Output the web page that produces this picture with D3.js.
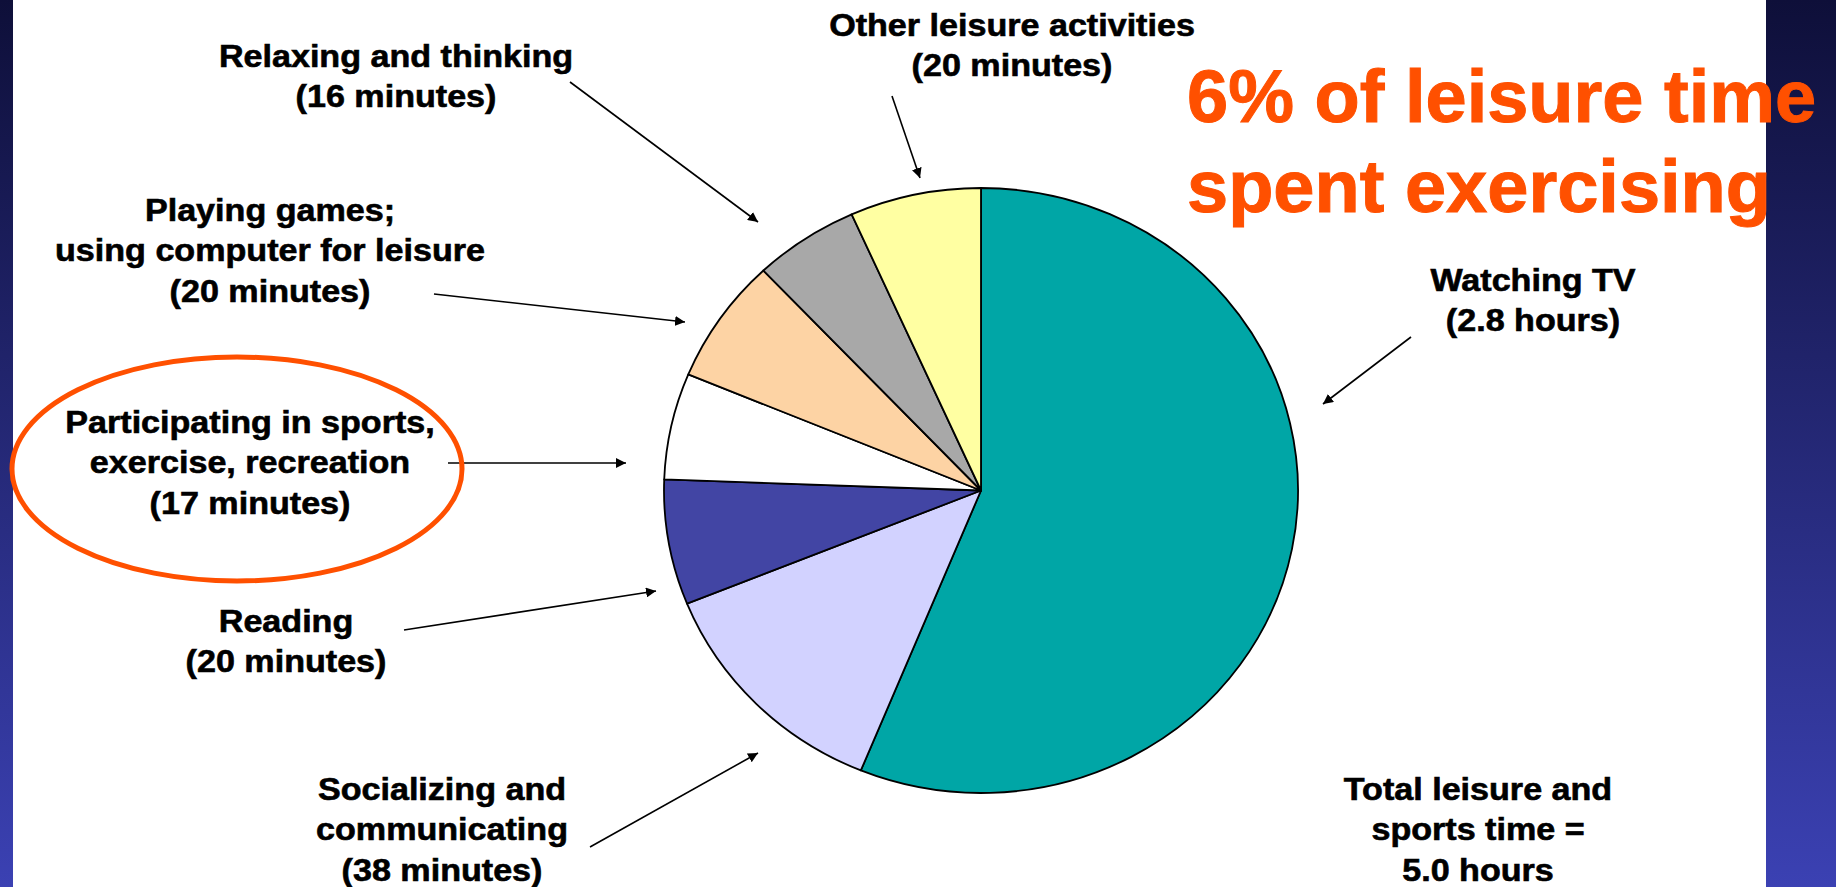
<!DOCTYPE html>
<html>
<head>
<meta charset="utf-8">
<script src="https://cdn.jsdelivr.net/npm/d3@7"></script>
<style>
  html, body { margin: 0; padding: 0; background: #ffffff; }
  svg { display: block; }
  text { font-family: "Liberation Sans", Arial, Helvetica, sans-serif; font-weight: bold; }
</style>
</head>
<body>
<svg id="chart" width="1836" height="887"></svg>
<script>
// Daily leisure and sports time, by activity (minutes), clockwise from 12 o'clock
const categories = [
  ["Watching TV"],
  ["Socializing and", "communicating"],
  ["Reading"],
  ["Participating in sports,", "exercise, recreation"],
  ["Playing games;", "using computer for leisure"],
  ["Relaxing and thinking"],
  ["Other leisure activities"]
];
const minutes = [168, 38, 20, 17, 20, 16, 20];
const valueUnits = ["hours", "minutes", "minutes", "minutes", "minutes", "minutes", "minutes"];
const titleLines = ["6% of leisure time", "spent exercising"];
const totalLines = ["Total leisure and", "sports time ="];

// Styles
const sliceColors = ["#00a6a6", "#d2d2ff", "#4245a4", "#ffffff", "#fdd3a4", "#a8a8a8", "#ffffa2"];
const accent = "#ff5000";

// Layout: label anchor (centre x, first baseline) and arrow (from -> to)
const labelLayout = [
  { x: 1533, y: 291, arrow: [[1411, 337], [1323, 404]] },
  { x: 442,  y: 800, arrow: [[590, 847], [758, 753]] },
  { x: 286,  y: 632, arrow: [[404, 630], [656, 591]] },
  { x: 250,  y: 433, arrow: [[448, 463], [626, 463]] },
  { x: 270,  y: 221, arrow: [[434, 294], [685, 322]] },
  { x: 396,  y: 67,  arrow: [[570, 82], [758, 222]] },
  { x: 1012, y: 36,  arrow: [[892, 96], [920, 178]] }
];
const lineGap = 40.5;
const labelStretch = 1.1;

const svg = d3.select("#chart");
const W = 1836, H = 887;

// Backdrop: dark blue side bands with a white panel between them
const defs = svg.append("defs");
const grad = defs.append("linearGradient")
  .attr("id", "band").attr("x1", 0).attr("y1", 0).attr("x2", 0).attr("y2", 1);
grad.append("stop").attr("offset", "0%").attr("stop-color", "#0e0f39");
grad.append("stop").attr("offset", "100%").attr("stop-color", "#3b41b3");

svg.append("rect").attr("x", 0).attr("y", 0).attr("width", W).attr("height", H).attr("fill", "url(#band)");
svg.append("rect").attr("x", 13).attr("y", 0).attr("width", 1766 - 13).attr("height", H).attr("fill", "#ffffff");

defs.append("marker")
  .attr("id", "head")
  .attr("viewBox", "0 0 10 10")
  .attr("refX", 10).attr("refY", 5)
  .attr("markerWidth", 10).attr("markerHeight", 10)
  .attr("markerUnits", "userSpaceOnUse")
  .attr("orient", "auto")
  .append("path")
  .attr("d", "M0,0 L10,5 L0,10 Z")
  .attr("fill", "#000");

// Pie (slightly wider than tall)
const cx = 981, cy = 490.5, rx = 317, ry = 302.5;
const pie = d3.pie().sort(null).value(d => d).startAngle(0).endAngle(2 * Math.PI);
const arc = d3.arc().innerRadius(0).outerRadius(ry);
const arcs = pie(minutes);

svg.append("g")
  .attr("transform", `translate(${cx},${cy}) scale(${rx / ry},1)`)
  .selectAll("path")
  .data(arcs)
  .join("path")
  .attr("d", arc)
  .attr("fill", (d, i) => sliceColors[i])
  .attr("stroke", "#000")
  .attr("stroke-width", 1.8)
  .attr("stroke-linejoin", "round")
  .attr("vector-effect", "non-scaling-stroke");

// Labels with their values
function valueText(i) {
  const m = minutes[i];
  return valueUnits[i] === "hours" ? `(${d3.format(".1f")(m / 60)} hours)` : `(${m} minutes)`;
}

const labels = svg.append("g");
categories.forEach((lines, i) => {
  const L = labelLayout[i];
  const all = lines.concat([valueText(i)]);
  const g = labels.append("g").attr("transform", `translate(${L.x},${L.y}) scale(${labelStretch},1)`);
  g.selectAll("text")
    .data(all)
    .join("text")
    .attr("x", 0)
    .attr("y", (d, k) => k * lineGap)
    .attr("text-anchor", "middle")
    .attr("font-size", 31)
    .attr("fill", "#000")
    .attr("stroke", "#000")
    .attr("stroke-width", 0.6)
    .text(d => d);

  labels.append("line")
    .attr("x1", L.arrow[0][0]).attr("y1", L.arrow[0][1])
    .attr("x2", L.arrow[1][0]).attr("y2", L.arrow[1][1])
    .attr("stroke", "#000")
    .attr("stroke-width", 1.6)
    .attr("marker-end", "url(#head)");
});

// Total
const total = d3.sum(minutes);
const totalG = svg.append("g").attr("transform", `translate(1478,800) scale(${labelStretch},1)`);
totalG.selectAll("text")
  .data(totalLines.concat([`${d3.format(".1f")(total / 60)} hours`]))
  .join("text")
  .attr("x", 0)
  .attr("y", (d, k) => k * lineGap)
  .attr("text-anchor", "middle")
  .attr("font-size", 31)
  .attr("fill", "#000")
  .attr("stroke", "#000")
  .attr("stroke-width", 0.6)
  .text(d => d);

// Highlight ring around the exercise label
svg.append("ellipse")
  .attr("cx", 237).attr("cy", 469)
  .attr("rx", 225).attr("ry", 112)
  .attr("fill", "none")
  .attr("stroke", accent)
  .attr("stroke-width", 5);

// Headline
svg.append("g").selectAll("text")
  .data(titleLines)
  .join("text")
  .attr("x", 1187)
  .attr("y", (d, k) => 122 + k * 90)
  .attr("font-size", 74)
  .attr("fill", accent)
  .attr("stroke", accent)
  .attr("stroke-width", 1)
  .text(d => d);
</script>
</body>
</html>
